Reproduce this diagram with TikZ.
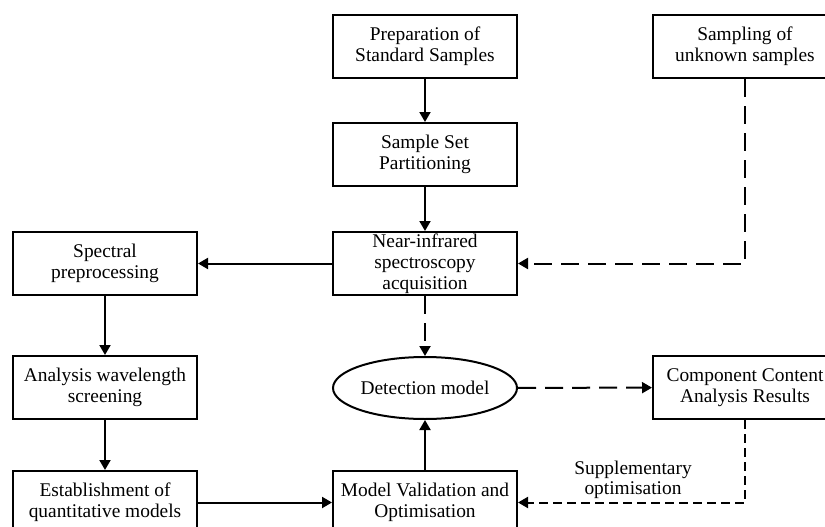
\documentclass[tikz,border=0pt]{standalone}
\usepackage{fontspec}
\setmainfont{Liberation Serif}
\usetikzlibrary{arrows.meta,shapes.geometric}
\begin{document}
\begin{tikzpicture}[x=1pt,y=-1pt,
  box/.style={draw,line width=2pt,minimum width=184pt,minimum height=63pt,inner sep=0pt,align=center,font=\fontsize{19.4}{21}\selectfont},
  ell/.style={draw,ellipse,line width=2pt,minimum width=184pt,minimum height=62pt,inner sep=0pt,font=\fontsize{19.4}{21}\selectfont},
  arr/.style={line width=2pt,-{Triangle[length=10pt,width=11pt]}},
  darr/.style={arr,dash pattern=on 18pt off 9pt},
  sdarr/.style={arr,dash pattern=on 9pt off 5pt},
  lbl/.style={align=center,inner sep=0pt,font=\fontsize{19.4}{20}\selectfont}]
\clip (0,0) rectangle (825,527);
\useasboundingbox (0,0) rectangle (825,527);
\node[box] (prep) at (425,46.5) {Preparation of\\Standard Samples};
\node[box] (samp) at (745,46.5) {Sampling of\\unknown samples};
\node[box] (part) at (425,154.5) {Sample Set\\Partitioning};
\node[box] (nir) at (425,263.5) {Near-infrared\\spectroscopy\\acquisition};
\node[box] (spec) at (105,263.5) {Spectral\\preprocessing};
\node[box] (anal) at (105,387.5) {Analysis wavelength\\screening};
\node[box] (est) at (105,502.5) {Establishment of\\quantitative models};
\node[ell] (det) at (425,388) {\makebox[0pt]{Detection model}};
\node[box] (comp) at (745,387.5) {Component Content\\Analysis Results};
\node[box] (val) at (425,502.5) {Model Validation and\\Optimisation};
\node[lbl] (sup) at (633,480) {Supplementary\\optimisation};
\draw[arr] (prep) -- (part);
\draw[arr] (part) -- (nir);
\draw[arr] (nir) -- (spec);
\draw[arr] (spec) -- (anal);
\draw[arr] (anal) -- (est);
\draw[arr] (est) -- (val);
\draw[arr] (val) -- (det);
\draw[darr] (nir) -- (det);
\draw[darr] (det) -- (comp);
\draw[darr] (samp.south) |- (nir.east);
\draw[sdarr] (comp.south) |- (val.east);
\end{tikzpicture}
\end{document}
